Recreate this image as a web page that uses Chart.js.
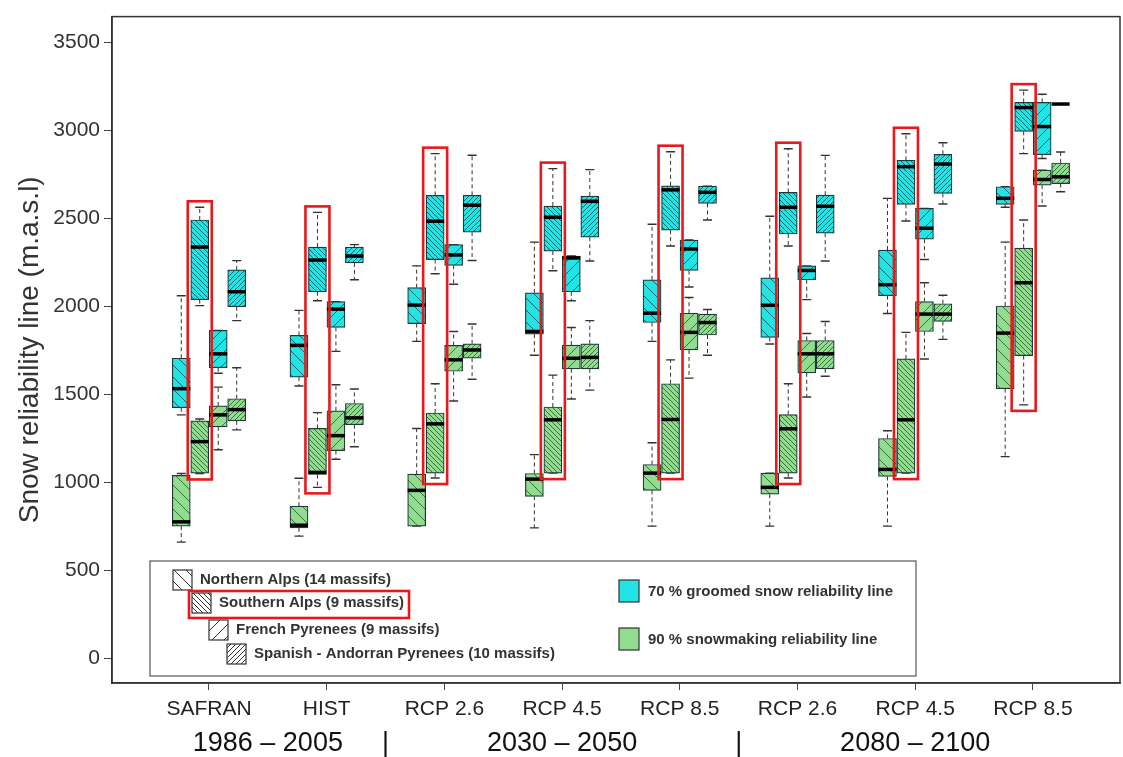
<!DOCTYPE html>
<html><head><meta charset="utf-8">
<script src="https://cdn.jsdelivr.net/npm/chart.js@4/dist/chart.umd.min.js"></script>
<style>html,body{margin:0;padding:0;background:#fff}#wrap{width:1123px;height:757px;position:relative}</style>
</head><body><div id="wrap"><canvas id="c"></canvas></div>
<script>
// ---- data ----
const groups = ['SAFRAN', 'HIST', 'RCP 2.6', 'RCP 4.5', 'RCP 8.5', 'RCP 2.6', 'RCP 4.5', 'RCP 8.5'];
const periods = ['1986 – 2005', '2030 – 2050', '2080 – 2100'];
const periodSizes = [2, 3, 3];
const yTicks = [0, 500, 1000, 1500, 2000, 2500, 3000, 3500];
const massifs = ['Northern Alps (14 massifs)', 'Southern Alps (9 massifs)', 'French Pyrenees (9 massifs)', 'Spanish - Andorran Pyrenees (10 massifs)'];
const metrics = ['70 % groomed snow reliability line', '90 % snowmaking reliability line'];
const yTitle = 'Snow reliability line (m.a.s.l)';
// [lower whisker, Q1, median, Q3, upper whisker] per group
const groomedNorth = [[1383,1424,1532,1705,2060],[1547,1598,1778,1835,1977],[1801,1902,2007,2106,2230],[1722,1842,1857,2077,2365],[1801,1908,1961,2151,2467],[1786,1823,2006,2162,2512],[1959,2061,2123,2320,2614],[2563,2580,2614,2680,2680]];
const groomedSouth = [[2004,2038,2337,2491,2563],[2032,2083,2263,2337,2534],[2185,2266,2484,2631,2868],[2202,2314,2506,2570,2783],[2343,2433,2662,2685,2879],[2343,2411,2563,2648,2896],[2485,2580,2794,2830,2981],[2868,2995,3130,3159,3229]];
const groomedFrench = [[1620,1651,1730,1863,1863],[1744,1880,1984,2027,2027],[2126,2233,2292,2351,2351],[2032,2083,2275,2286,2286],[2110,2204,2326,2377,2377],[2038,2151,2204,2230,2230],[2266,2382,2444,2557,2557],[2840,2862,3022,3159,3206]];
const groomedSpanish = [[1919,1998,2083,2207,2260],[2151,2247,2286,2337,2351],[2261,2422,2575,2631,2859],[2258,2393,2597,2627,2777],[2491,2585,2648,2683,2683],[2258,2416,2569,2632,2858],[2582,2642,2809,2864,2930],[3150,3150,3150,3150,3150]];
const snowNorth = [[660,751,775,1039,1050],[694,741,756,864,1023],[751,751,954,1046,1306],[741,920,1018,1050,1157],[751,954,1052,1101,1225],[751,932,971,1052,1052],[751,1033,1073,1249,1293],[1146,1532,1848,2002,2365]];
const snowSouth = [[1050,1052,1231,1349,1360],[971,1044,1056,1306,1396],[1024,1052,1332,1394,1560],[1052,1052,1355,1428,1609],[1052,1052,1357,1560,1696],[1024,1052,1304,1385,1560],[1052,1052,1355,1701,1852],[1440,1720,2134,2331,2491]];
const snowFrench = [[1185,1315,1383,1434,1541],[1131,1180,1265,1406,1554],[1462,1631,1696,1778,1857],[1473,1645,1705,1780,1880],[1592,1752,1852,1961,2050],[1485,1622,1730,1806,1846],[1701,1857,1956,2027,2134],[2570,2689,2721,2774,2774]];
const snowSpanish = [[1298,1349,1413,1475,1651],[1202,1327,1366,1448,1530],[1586,1705,1752,1787,1900],[1524,1645,1710,1787,1919],[1722,1837,1908,1956,1982],[1603,1645,1730,1806,1914],[1812,1914,1956,2015,2063],[2651,2698,2736,2815,2877]];

// ---- styles ----
const FONT = '"Liberation Sans", Arial, sans-serif';
const BOX_W = 18;
const SLOT = 0.157;
const fills = ['#22e4e4', '#92dc92'];
const hatchInk = ['rgba(15,70,80,0.8)', 'rgba(25,80,25,0.75)'];
const hatch = [{dir: 1, s: 12}, {dir: 1, s: 5}, {dir: -1, s: 12}, {dir: -1, s: 5}];

function makePattern(bg, ink, spec) {
  const s = spec.s;
  const c = document.createElement('canvas');
  c.width = s; c.height = s;
  const g = c.getContext('2d');
  if (bg) { g.fillStyle = bg; g.fillRect(0, 0, s, s); }
  g.strokeStyle = ink; g.lineWidth = 1;
  g.beginPath();
  for (let k = -1; k <= 1; k++) {
    if (spec.dir === 1) { g.moveTo(k * s, 0); g.lineTo(k * s + s, s); }
    else { g.moveTo(k * s, s); g.lineTo(k * s + s, 0); }
  }
  g.stroke();
  return g.createPattern(c, 'repeat');
}

const seriesDefs = [
  [groomedNorth, 0, 0], [groomedSouth, 0, 1], [groomedFrench, 0, 2], [groomedSpanish, 0, 3],
  [snowNorth, 1, 0], [snowSouth, 1, 1], [snowFrench, 1, 2], [snowSpanish, 1, 3]
];

const datasets = seriesDefs.map(([stats, metric, massif]) => ({
  type: 'bar',
  label: metrics[metric] + ' – ' + massifs[massif],
  data: stats.map((v, i) => ({x: i + 1 + (massif - 1.5) * SLOT, y: [v[1], v[3]]})),
  stats: stats,
  massif: massif,
  backgroundColor: makePattern(fills[metric], hatchInk[metric], hatch[massif]),
  borderColor: '#1e3838',
  borderWidth: 1.2,
  borderSkipped: false,
  grouped: false,
  barThickness: BOX_W
}));

const boxPlugin = {
  id: 'boxParts',
  beforeDatasetsDraw(chart) {
    const ctx = chart.ctx, y = chart.scales.y;
    ctx.save();
    chart.data.datasets.forEach((ds, di) => {
      const meta = chart.getDatasetMeta(di);
      meta.data.forEach((el, i) => {
        const st = ds.stats[i];
        const x = el.x;
        ctx.strokeStyle = '#333'; ctx.lineWidth = 1;
        ctx.setLineDash([4, 3]);
        ctx.beginPath();
        ctx.moveTo(x, y.getPixelForValue(st[3])); ctx.lineTo(x, y.getPixelForValue(st[4]));
        ctx.moveTo(x, y.getPixelForValue(st[1])); ctx.lineTo(x, y.getPixelForValue(st[0]));
        ctx.stroke();
        ctx.setLineDash([]);
        ctx.lineWidth = 1.4;
        ctx.beginPath();
        [st[0], st[4]].forEach(v => {
          const py = y.getPixelForValue(v);
          ctx.moveTo(x - BOX_W / 4, py); ctx.lineTo(x + BOX_W / 4, py);
        });
        ctx.stroke();
      });
    });
    ctx.restore();
  },
  afterDatasetsDraw(chart) {
    const ctx = chart.ctx, y = chart.scales.y, xs = chart.scales.x;
    ctx.save();
    chart.data.datasets.forEach((ds, di) => {
      const meta = chart.getDatasetMeta(di);
      meta.data.forEach((el, i) => {
        const st = ds.stats[i];
        const py = y.getPixelForValue(st[2]);
        ctx.strokeStyle = '#000'; ctx.lineWidth = 3.5;
        ctx.beginPath();
        ctx.moveTo(el.x - BOX_W / 2, py); ctx.lineTo(el.x + BOX_W / 2, py);
        ctx.stroke();
      });
    });
    // red highlight around Southern Alps column
    ctx.strokeStyle = '#e8191c'; ctx.lineWidth = 2.6;
    groups.forEach((g, i) => {
      const lo = Math.min(groomedSouth[i][0], snowSouth[i][0]);
      const hi = Math.max(groomedSouth[i][4], snowSouth[i][4]);
      const cx = xs.getPixelForValue(i + 1 - 0.5 * SLOT);
      const top = y.getPixelForValue(hi) - 6, bot = y.getPixelForValue(lo) + 6;
      ctx.strokeRect(cx - BOX_W / 2 - 3, top, BOX_W + 6, bot - top);
    });
    ctx.restore();
  },
  afterDraw(chart) {
    const ctx = chart.ctx, a = chart.chartArea, xs = chart.scales.x;
    ctx.save();
    // frame
    ctx.strokeStyle = '#333'; ctx.lineWidth = 1.5;
    ctx.strokeRect(a.left, a.top, a.right - a.left, a.bottom - a.top);
    // period labels
    ctx.fillStyle = '#111';
    ctx.font = '27px ' + FONT;
    ctx.textAlign = 'center'; ctx.textBaseline = 'middle';
    let start = 1;
    periods.forEach((p, i) => {
      const c = start + (periodSizes[i] - 1) / 2;
      ctx.fillText(p, xs.getPixelForValue(c), 744);
      if (i < periods.length - 1) ctx.fillText('|', xs.getPixelForValue(start + periodSizes[i] - 0.5), 744);
      start += periodSizes[i];
    });
    // legend
    const L = {x: 150, y: 561, w: 766, h: 115};
    ctx.fillStyle = '#fff';
    ctx.fillRect(L.x, L.y, L.w, L.h);
    ctx.strokeStyle = '#555'; ctx.lineWidth = 1.2;
    ctx.strokeRect(L.x, L.y, L.w, L.h);
    ctx.font = 'bold 15px ' + FONT;
    ctx.textAlign = 'left';
    const mx = [173, 192, 209, 227], my = [570, 593, 620, 644];
    massifs.forEach((m, k) => {
      ctx.fillStyle = makePattern('#fff', '#333', hatch[k]);
      ctx.fillRect(mx[k], my[k], 19, 20);
      ctx.strokeStyle = '#333'; ctx.lineWidth = 1.2;
      ctx.strokeRect(mx[k], my[k], 19, 20);
      ctx.fillStyle = '#333';
      ctx.fillText(m, mx[k] + 27, my[k] + 10);
    });
    ctx.strokeStyle = '#e8191c'; ctx.lineWidth = 2.6;
    ctx.strokeRect(189, 591, 220, 27);
    const cy = [580, 628];
    metrics.forEach((m, k) => {
      ctx.fillStyle = fills[k];
      ctx.fillRect(619, cy[k], 20, 22);
      ctx.strokeStyle = '#333'; ctx.lineWidth = 1.2;
      ctx.strokeRect(619, cy[k], 20, 22);
      ctx.fillStyle = '#333';
      ctx.fillText(m, 648, cy[k] + 12);
    });
    ctx.restore();
  }
};

new Chart(document.getElementById('c'), {
  type: 'bar',
  data: {datasets},
  options: {
    responsive: true,
    maintainAspectRatio: false,
    animation: false,
    layout: {padding: {top: 12, right: 3, left: 0, bottom: 0}},
    plugins: {legend: {display: false}, tooltip: {enabled: false}},
    scales: {
      x: {
        type: 'linear', min: 0.176, max: 8.74, offset: false,
        afterBuildTicks: s => { s.ticks = groups.map((g, i) => ({value: i + 1})); },
        afterFit: s => { s.height = 74; },
        ticks: {callback: (v, i) => groups[i], autoSkip: false, maxRotation: 0, font: {size: 21, family: FONT}, color: '#222', padding: 7},
        grid: {drawOnChartArea: false, offset: false, tickLength: 7, color: '#444'},
        border: {display: true, color: '#333', width: 1.5}
      },
      y: {
        type: 'linear', min: -141, max: 3647,
        afterBuildTicks: s => { s.ticks = yTicks.map(v => ({value: v})); },
        afterFit: s => { s.width = 112; },
        ticks: {callback: v => String(v), font: {size: 21, family: FONT}, color: '#333', padding: 4},
        grid: {drawOnChartArea: false, offset: false, tickLength: 8, color: '#444'},
        border: {display: true, color: '#333', width: 1.5},
        title: {display: true, text: yTitle, font: {size: 28, family: FONT}, color: '#333', padding: {top: 13, bottom: 0}}
      }
    }
  },
  plugins: [boxPlugin]
});
</script>
</body></html>
